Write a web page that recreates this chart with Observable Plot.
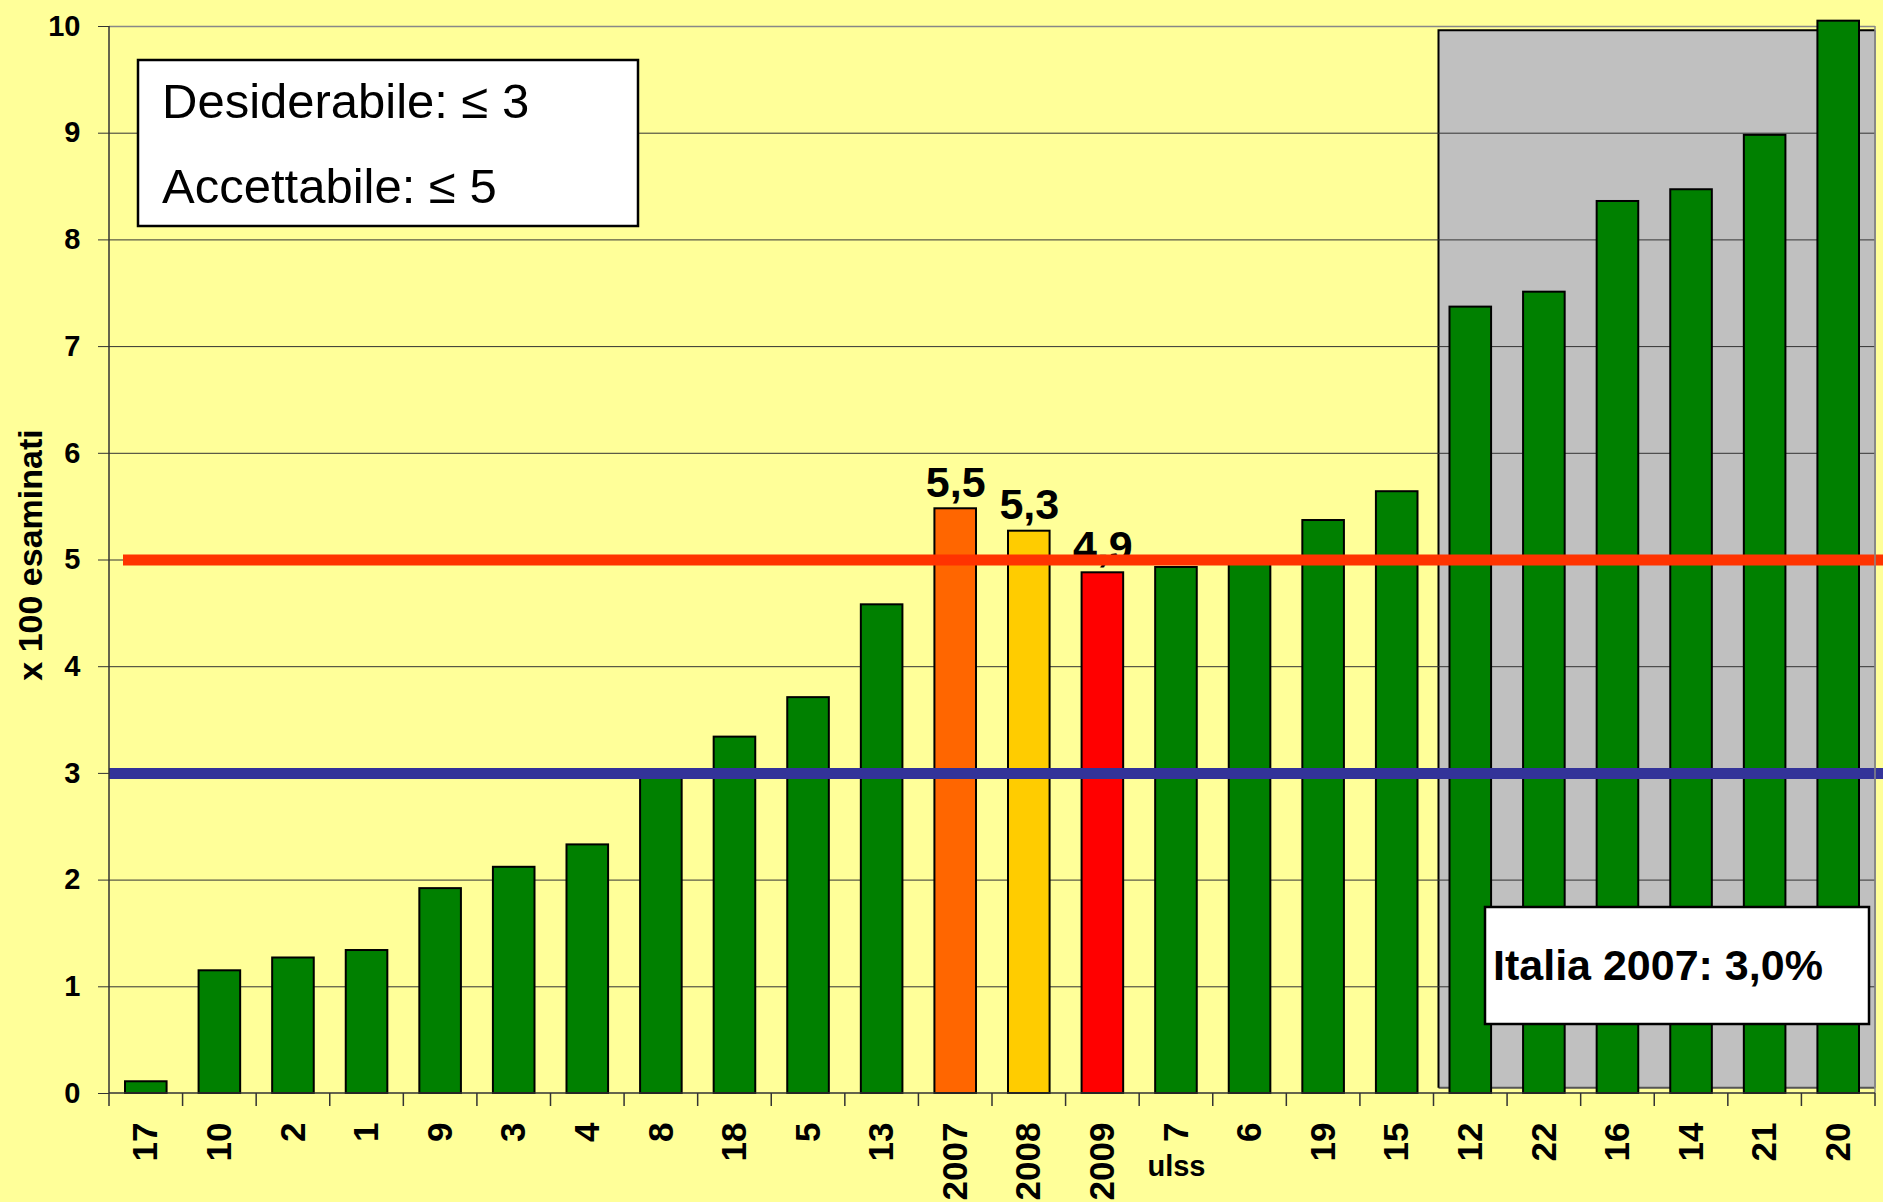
<!DOCTYPE html>
<html>
<head>
<meta charset="utf-8">
<script src="https://cdn.jsdelivr.net/npm/d3@7"></script>
<script src="https://cdn.jsdelivr.net/npm/@observablehq/plot@0.6"></script>
<style>
  html, body { margin: 0; padding: 0; background: #FFFF99; }
  #chart { width: 1883px; height: 1202px; overflow: hidden; }
</style>
</head>
<body>
<div id="chart"></div>
<script>
// ---- data ----
const ulss = ["17","10","2","1","9","3","4","8","18","5","13","2007","2008","2009","7","6","19","15","12","22","16","14","21","20"];
const rate = [0.11,1.15,1.27,1.34,1.92,2.12,2.33,3.0,3.34,3.71,4.58,5.48,5.27,4.88,4.93,5.0,5.37,5.64,7.37,7.51,8.36,8.47,8.98,10.05];
const yTicks = [0,1,2,3,4,5,6,7,8,9,10];
const labelledCats = ["2007","2008","2009"];
const labelTexts = ["5,5","5,3","4,9"];
const desiderabile = 3;
const accettabile = 5;
const greyFrom = "12", greyTo = "20";
const greyTop = 9.96, greyBottom = 0.05;
const xAxisLabel = "ulss", xAxisLabelAt = "7";
const yAxisLabel = "x 100 esaminati";
const legendLines = ["Desiderabile: ≤ 3", "Accettabile: ≤ 5"];
const italiaNote = "Italia 2007: 3,0%";

// ---- styles ----
const highlight = {"2007": "#FF6600", "2008": "#FFCC00", "2009": "#FF0000"};
const green = "#008000";
const FONT = "Liberation Sans, Arial, sans-serif";

const rows = ulss.map((u, i) => ({ulss: u, rate: rate[i]}));
const labelRows = labelledCats.map((c, i) => ({ulss: c, rate: rate[ulss.indexOf(c)], label: labelTexts[i]}));

function greyBox(index, {x, y}) {
  const step = x(ulss[1]) - x(ulss[0]);
  const x0 = x(greyFrom) + 5, x1 = x(greyTo) + step;
  const yT = y(greyTop), yB = y(greyBottom);
  const g = d3.create("svg:g");
  g.append("rect").attr("x", x0).attr("y", yT).attr("width", x1 - x0).attr("height", yB - yT).attr("fill", "#C0C0C0");
  g.append("path").attr("d", `M${x1},${yB}H${x0}`).attr("stroke", "#555").attr("stroke-width", 2).attr("fill", "none");
  g.append("path").attr("d", `M${x1},${yT}V${yB}`).attr("stroke", "#888").attr("stroke-width", 2).attr("fill", "none");
  g.append("path").attr("d", `M${x0},${yB}V${yT}H${x1}`).attr("stroke", "#000").attr("stroke-width", 2).attr("fill", "none");
  return g.node();
}

function axisFrame(index, {x, y}) {
  const step = x(ulss[1]) - x(ulss[0]);
  const xs = x(ulss[0]), xe = x(ulss[ulss.length - 1]) + step;
  const y0 = y(0), yTop = y(10);
  const g = d3.create("svg:g").attr("fill", "none");
  g.append("path").attr("d", `M${xe},${yTop}V${y0}`).attr("stroke", "#888").attr("stroke-width", 1.5);
  g.append("path").attr("d", `M${xs},${yTop}V${y0}H${xe}`).attr("stroke", "#333").attr("stroke-width", 1.5);
  const bounds = ulss.map(u => x(u)).concat([xe]);
  g.append("path")
    .attr("d", bounds.map(b => `M${b},${y0}v13`).join(""))
    .attr("stroke", "#333").attr("stroke-width", 1.5);
  return g.node();
}

const chart = Plot.plot({
  width: 1883,
  height: 1202,
  marginLeft: 109,
  marginRight: 8,
  marginTop: 26,
  marginBottom: 109,
  style: {background: "#FFFF99", fontFamily: FONT, fontWeight: "bold", color: "#000"},
  x: {type: "band", domain: ulss, padding: 0, round: false, axis: null},
  y: {domain: [0, 10], axis: null},
  color: {type: "identity"},
  marks: [
    greyBox,
    Plot.ruleY(yTicks.filter(t => t > 0 && t < 10), {stroke: "#333", strokeWidth: 1}),
    Plot.ruleY([10], {stroke: "#888", strokeWidth: 1.5}),
    Plot.barY(rows, {x: "ulss", y: "rate", fill: d => highlight[d.ulss] ?? green, stroke: "#000", strokeWidth: 2, insetLeft: 16, insetRight: 16}),
    Plot.text(labelRows, {x: "ulss", y: "rate", text: "label", lineAnchor: "bottom", dy: -12, fontSize: 43, fill: "#000"}),
    Plot.ruleY([accettabile], {stroke: "#FF3300", strokeWidth: 11, insetLeft: 14, insetRight: -8}),
    Plot.ruleY([desiderabile], {stroke: "#333399", strokeWidth: 11, insetRight: -8}),
    axisFrame,
    Plot.axisY({ticks: yTicks, tickSize: 11, tickPadding: 18, fontSize: 29, label: null, stroke: "#333"}),
    Plot.axisX({tickSize: 0, tickRotate: -90, tickPadding: 29, fontSize: 35, label: null}),
    Plot.text([xAxisLabel], {x: () => xAxisLabelAt, frameAnchor: "bottom", text: d => d, dy: 73, fontSize: 29, lineAnchor: "middle"}),
    Plot.text([yAxisLabel], {frameAnchor: "left", text: d => d, rotate: -90, textAnchor: "middle", dx: -78, dy: -5, fontSize: 34})
  ]
});

// annotation boxes
const svg = d3.select(chart);
const leg = svg.append("g").attr("text-anchor", "start");
leg.append("rect").attr("x", 138).attr("y", 60).attr("width", 500).attr("height", 166)
  .attr("fill", "#fff").attr("stroke", "#000").attr("stroke-width", 2.5);
leg.selectAll("text").data(legendLines).join("text")
  .attr("x", 162).attr("y", (d, i) => 118 + i * 85)
  .attr("text-anchor", "start")
  .attr("font-size", 49).attr("font-weight", "normal")
  .attr("font-family", FONT)
  .text(d => d);

const ita = svg.append("g").attr("text-anchor", "start");
ita.append("rect").attr("x", 1485).attr("y", 907).attr("width", 384).attr("height", 117)
  .attr("fill", "#fff").attr("stroke", "#000").attr("stroke-width", 2.5);
ita.append("text").attr("x", 1493).attr("y", 980)
  .attr("text-anchor", "start")
  .attr("font-size", 43).attr("font-weight", "bold")
  .attr("font-family", FONT)
  .text(italiaNote);

document.getElementById("chart").appendChild(chart);
</script>
</body>
</html>
